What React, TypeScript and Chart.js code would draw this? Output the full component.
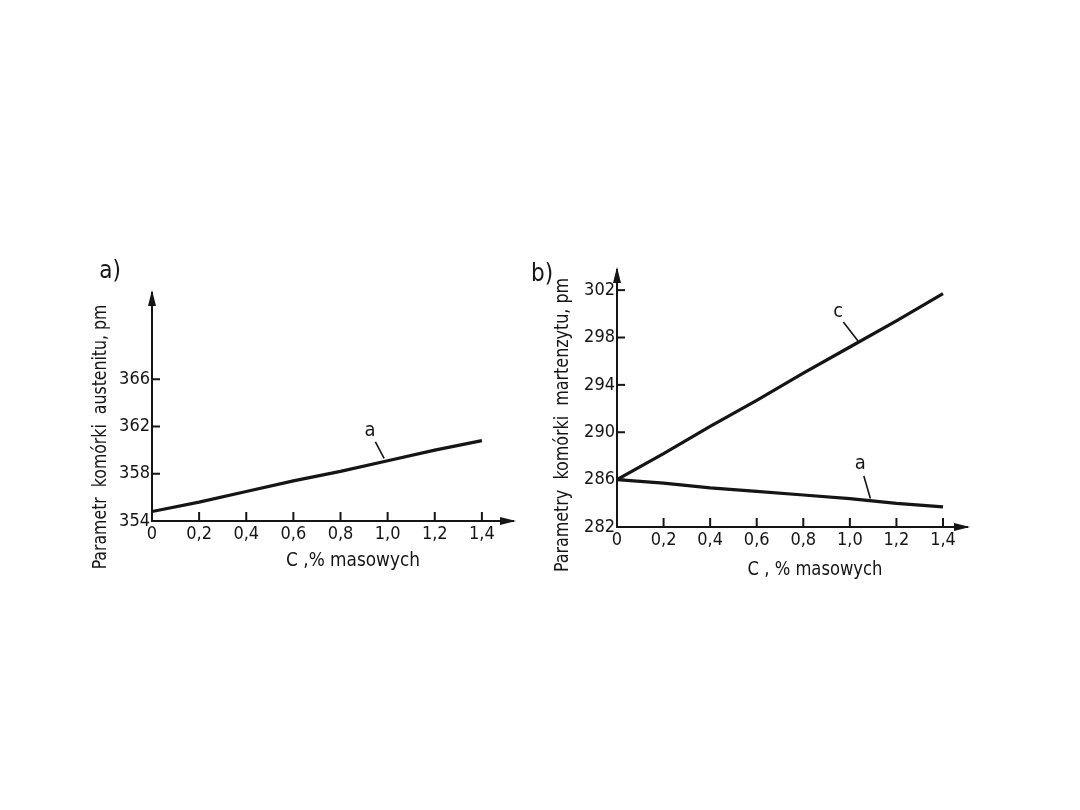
import React, { useEffect, useRef } from 'react';
import { Chart, registerables } from 'chart.js';

Chart.register(...registerables);

// ---- data ----
const carbon = [0, 0.2, 0.4, 0.6, 0.8, 1.0, 1.2, 1.4];
const xTickValues = [0, 0.2, 0.4, 0.6, 0.8, 1.0, 1.2, 1.4];
const xTickLabels = ['0', '0,2', '0,4', '0,6', '0,8', '1,0', '1,2', '1,4'];

const austeniteA = [354.8, 355.6, 356.5, 357.4, 358.2, 359.1, 360.0, 360.8];
const austeniteTicks = [354, 358, 362, 366];

const martensiteC = [286.0, 288.2, 290.5, 292.7, 295.0, 297.2, 299.4, 301.7];
const martensiteA = [286.0, 285.7, 285.3, 285.0, 284.7, 284.4, 284.0, 283.7];
const martensiteTicks = [282, 286, 290, 294, 298, 302];

// curve labels (data units): text position, leader start, leader end
const curveLabelsA = [
  { text: 'a', x: 0.925, y: 361.6, from: [0.948, 360.7], to: [0.985, 359.3] },
];
const curveLabelsB = [
  { text: 'c', x: 0.95, y: 300.2, from: [0.972, 299.3], to: [1.035, 297.7] },
  { text: 'a', x: 1.045, y: 287.3, from: [1.06, 286.3], to: [1.088, 284.4] },
];

const INK = '#151515';
const FONT = '"Liberation Sans Narrow", "DejaVu Sans Condensed", "Roboto Condensed", sans-serif';

type TextItem = { text: string; x: number; y: number; rot?: boolean; size: number; sx?: number };

const textsA: TextItem[] = [
  { text: 'a)', x: 110, y: 272, size: 24 },
  { text: 'Parametr  komórki  austenitu, pm', x: 101, y: 437, rot: true, size: 20, sx: 0.875 },
  { text: 'C ,% masowych', x: 353, y: 561, size: 20, sx: 0.94 },
];
const textsB: TextItem[] = [
  { text: 'b)', x: 542, y: 275, size: 24 },
  { text: 'Parametry  komórki  martenzytu, pm', x: 563, y: 425, rot: true, size: 20, sx: 0.885 },
  { text: 'C , % masowych', x: 815, y: 570, size: 20, sx: 0.91 },
];

function makeDecor(yTicks: number[], curveLabels: any[], texts: TextItem[]) {
  return {
    id: 'decor',
    afterDraw(chart: any) {
      const ctx = chart.ctx as CanvasRenderingContext2D;
      const { left, right, top, bottom } = chart.chartArea;
      const xs = chart.scales.x;
      const ys = chart.scales.y;
      ctx.save();
      ctx.strokeStyle = INK;
      ctx.fillStyle = INK;
      ctx.lineWidth = 2;
      ctx.lineCap = 'butt';
      // inner tick marks
      xTickValues.forEach((v) => {
        if (v === xs.min) return;
        const px = xs.getPixelForValue(v);
        ctx.beginPath();
        ctx.moveTo(px, bottom);
        ctx.lineTo(px, bottom - 9);
        ctx.stroke();
      });
      yTicks.forEach((v) => {
        if (v === ys.min) return;
        const py = ys.getPixelForValue(v);
        ctx.beginPath();
        ctx.moveTo(left, py);
        ctx.lineTo(left + 8, py);
        ctx.stroke();
      });
      // arrow heads
      ctx.beginPath();
      ctx.moveTo(left, top - 3);
      ctx.lineTo(left - 4, top + 13);
      ctx.lineTo(left + 4, top + 13);
      ctx.closePath();
      ctx.fill();
      ctx.beginPath();
      ctx.moveTo(right + 3, bottom);
      ctx.lineTo(right - 13, bottom - 4);
      ctx.lineTo(right - 13, bottom + 4);
      ctx.closePath();
      ctx.fill();
      // curve labels with leader lines
      ctx.lineWidth = 1.6;
      ctx.font = `20px ${FONT}`;
      ctx.textAlign = 'center';
      ctx.textBaseline = 'middle';
      curveLabels.forEach((l) => {
        ctx.fillText(l.text, xs.getPixelForValue(l.x), ys.getPixelForValue(l.y));
        ctx.beginPath();
        ctx.moveTo(xs.getPixelForValue(l.from[0]), ys.getPixelForValue(l.from[1]));
        ctx.lineTo(xs.getPixelForValue(l.to[0]), ys.getPixelForValue(l.to[1]));
        ctx.stroke();
      });
      // titles
      texts.forEach((t) => {
        ctx.save();
        ctx.font = `${t.size}px ${FONT}`;
        ctx.translate(t.x, t.y);
        if (t.rot) ctx.rotate(-Math.PI / 2);
        if (t.sx) ctx.scale(t.sx, 1);
        ctx.fillText(t.text, 0, 0);
        ctx.restore();
      });
      ctx.restore();
    },
  };
}

function buildConfig(
  series: { values: number[] }[],
  yTicks: number[],
  yMin: number,
  yMax: number,
  xMax: number,
  padding: { left: number; right: number; top: number; bottom: number },
  decor: any
): any {
  return {
    type: 'line',
    data: {
      datasets: series.map((s) => ({
        data: carbon.map((c, i) => ({ x: c, y: s.values[i] })),
        borderColor: INK,
        borderWidth: 3.2,
        pointRadius: 0,
        fill: false,
        tension: 0,
      })),
    },
    options: {
      responsive: false,
      animation: false,
      layout: { padding },
      plugins: { legend: { display: false }, tooltip: { enabled: false }, title: { display: false } },
      scales: {
        x: {
          type: 'linear',
          min: 0,
          max: xMax,
          grid: { display: false, drawTicks: false },
          border: { display: true, color: INK, width: 2 },
          afterFit: (s: any) => { s.height = 30; },
          afterBuildTicks: (s: any) => { s.ticks = xTickValues.map((v) => ({ value: v })); },
          ticks: {
            color: INK,
            padding: 3,
            maxRotation: 0,
            autoSkip: false,
            font: { family: FONT, size: 18 },
            callback: (v: number) => {
              const i = xTickValues.findIndex((t) => Math.abs(t - v) < 1e-6);
              return i >= 0 ? xTickLabels[i] : '';
            },
          },
        },
        y: {
          type: 'linear',
          min: yMin,
          max: yMax,
          grid: { display: false, drawTicks: false },
          border: { display: true, color: INK, width: 2 },
          afterFit: (s: any) => { s.width = 50; },
          afterBuildTicks: (s: any) => { s.ticks = yTicks.map((v) => ({ value: v })); },
          ticks: {
            color: INK,
            padding: 2,
            autoSkip: false,
            font: { family: FONT, size: 18 },
            callback: (v: number) => String(v),
          },
        },
      },
    },
    plugins: [decor],
  };
}

export default function App() {
  const refA = useRef<HTMLCanvasElement>(null);
  const refB = useRef<HTMLCanvasElement>(null);

  useEffect(() => {
    const chartA = new Chart(
      refA.current as HTMLCanvasElement,
      buildConfig(
        [{ values: austeniteA }],
        austeniteTicks,
        354,
        373.3,
        1.532,
        { left: 102, right: 567, top: 293, bottom: 259 },
        makeDecor(austeniteTicks, curveLabelsA, textsA)
      )
    );
    const chartB = new Chart(
      refB.current as HTMLCanvasElement,
      buildConfig(
        [{ values: martensiteC }, { values: martensiteA }],
        martensiteTicks,
        282,
        303.7,
        1.503,
        { left: 567, right: 113, top: 270, bottom: 253 },
        makeDecor(martensiteTicks, curveLabelsB, textsB)
      )
    );
    return () => {
      chartA.destroy();
      chartB.destroy();
    };
  }, []);

  const canvasStyle: React.CSSProperties = {
    position: 'absolute',
    left: 0,
    top: 0,
    width: 1080,
    height: 810,
  };

  return (
    <div style={{ position: 'fixed', left: 0, top: 0, width: 1080, height: 810, background: '#fff' }}>
      <canvas ref={refA} width={1080} height={810} style={canvasStyle} />
      <canvas ref={refB} width={1080} height={810} style={canvasStyle} />
    </div>
  );
}
